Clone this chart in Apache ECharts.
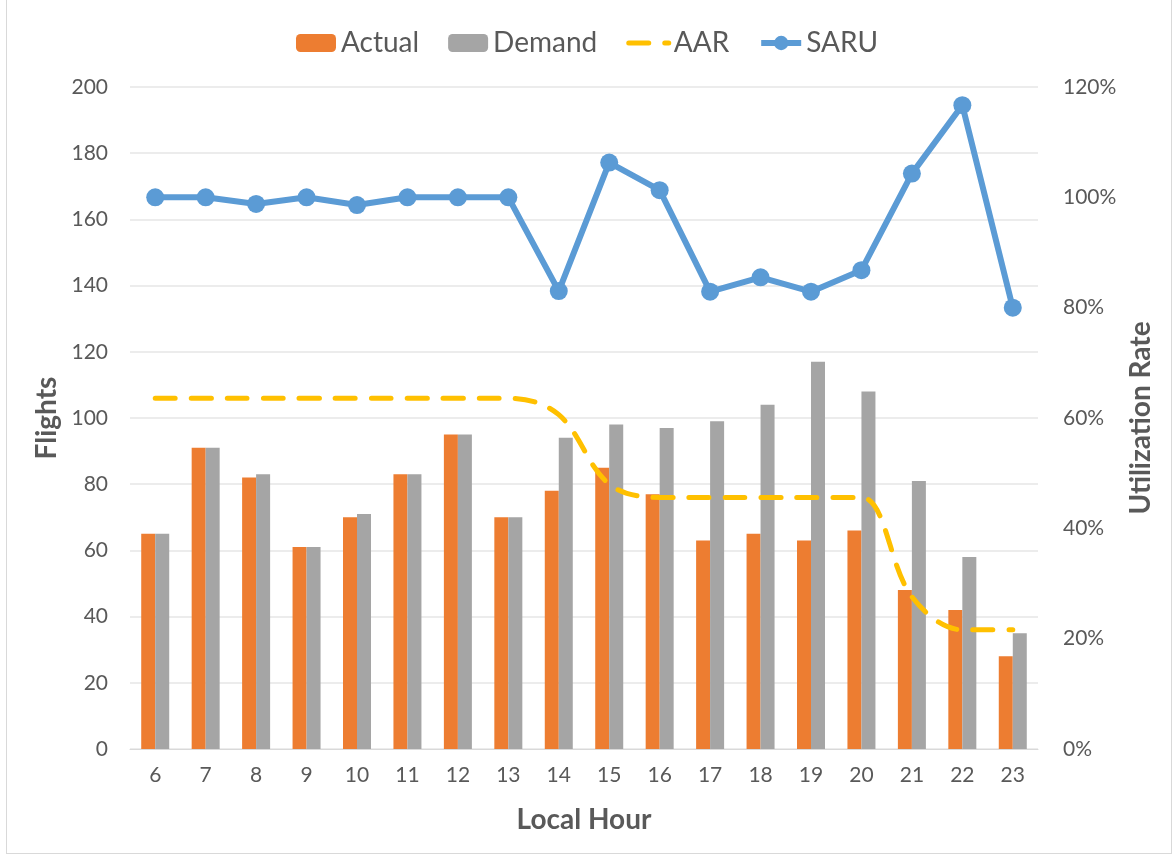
<!DOCTYPE html>
<html>
<head>
<meta charset="utf-8">
<script src="https://cdn.jsdelivr.net/npm/echarts@6/dist/echarts.min.js"></script>
<style>
html,body{margin:0;padding:0;background:#fff;}
#frame{position:absolute;left:6px;top:0;width:1166px;height:854px;border:1px solid #d9d9d9;border-top:none;box-sizing:border-box;}
#chart{position:absolute;left:0;top:0;width:1174px;height:856px;}
</style>
</head>
<body>
<div id="frame"></div>
<div id="chart"></div>
<script>
const hours = ['6','7','8','9','10','11','12','13','14','15','16','17','18','19','20','21','22','23'];
const actual = [65,91,82,61,70,83,95,70,78,85,77,63,65,63,66,48,42,28];
const demand = [65,91,83,61,71,83,95,70,94,98,97,99,104,117,108,81,58,35];
const aar = [106,106,106,106,106,106,106,106,101,80,76,76,76,76,76,46,36,36];
const saru = [100,100,98.8,100,98.6,100,100,100,83,106.3,101.3,82.9,85.5,82.9,86.8,104.3,116.7,80];
const leftTicks = {min:0, max:200, interval:20};
const rightTicks = {min:0, max:120, interval:20};

const font = 'Lato, "Open Sans", sans-serif';
const chart = echarts.init(document.getElementById('chart'));
chart.setOption({
  animation:false,
  textStyle:{fontFamily:font},
  legend:{
    top:24, left:'center', itemWidth:40, itemHeight:18, itemGap:29,
    textStyle:{fontSize:28, color:'#595959', fontFamily:font},
    data:['Actual','Demand',
      {name:'AAR', itemStyle:{opacity:0}, lineStyle:{width:5}},
      {name:'SARU', lineStyle:{width:6}}]
  },
  grid:{left:130, right:136, top:87, bottom:107},
  xAxis:{
    type:'category', data:hours,
    axisLine:{lineStyle:{color:'#d9d9d9', width:1}},
    axisTick:{show:false},
    axisLabel:{fontSize:21, color:'#595959', margin:16, fontFamily:font},
    name:'Local Hour', nameLocation:'middle', nameGap:57,
    nameTextStyle:{fontSize:28, fontWeight:'bold', color:'#595959', fontFamily:font}
  },
  yAxis:[{
    type:'value', min:leftTicks.min, max:leftTicks.max, interval:leftTicks.interval,
    axisLine:{show:false}, axisTick:{show:false},
    splitLine:{lineStyle:{color:'#e6e6e6', width:1.5}},
    axisLabel:{fontSize:21, color:'#595959', margin:22, fontFamily:font},
    name:'Flights', nameLocation:'middle', nameGap:68, nameRotate:90,
    nameTextStyle:{fontSize:28, fontWeight:'bold', color:'#595959', fontFamily:font}
  },{
    type:'value', min:rightTicks.min, max:rightTicks.max, interval:rightTicks.interval,
    position:'right',
    axisLine:{show:false}, axisTick:{show:false}, splitLine:{show:false},
    axisLabel:{fontSize:21, color:'#595959', margin:25, formatter:'{value}%', fontFamily:font},
    name:'Utilization Rate', nameLocation:'middle', nameGap:88, nameRotate:90,
    nameTextStyle:{fontSize:28, fontWeight:'bold', color:'#595959', fontFamily:font}
  }],
  series:[{
    name:'Actual', type:'bar', data:actual, barWidth:14, barGap:'0%',
    itemStyle:{color:'#ed7d31'}
  },{
    name:'Demand', type:'bar', data:demand, barWidth:14, barGap:'0%',
    itemStyle:{color:'#a5a5a5'}
  },{
    name:'AAR', type:'line', data:aar, smooth:0.35, symbol:'none',
    lineStyle:{color:'#ffc000', width:5, type:[20,16], cap:'round'},
    itemStyle:{color:'#ffc000'}
  },{
    name:'SARU', type:'line', yAxisIndex:1, data:saru,
    symbol:'circle', symbolSize:18,
    lineStyle:{color:'#5b9bd5', width:6},
    itemStyle:{color:'#5b9bd5'}
  }]
});
</script>
</body>
</html>
